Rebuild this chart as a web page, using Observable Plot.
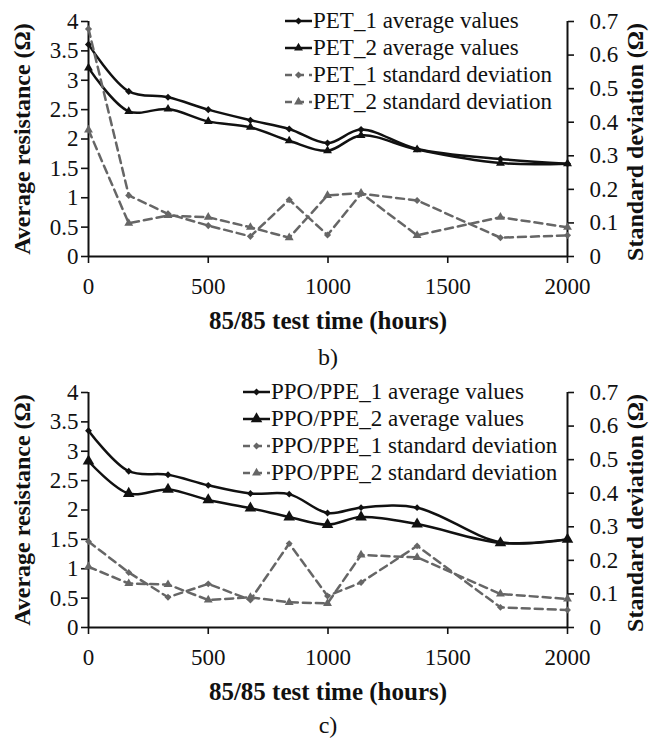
<!DOCTYPE html>
<html><head><meta charset="utf-8">
<script src="https://cdn.jsdelivr.net/npm/d3@7"></script>
<script src="https://cdn.jsdelivr.net/npm/@observablehq/plot@0.6"></script>
<style>
body{margin:0;background:#fff;}
#wrap{position:relative;width:649px;height:740px;overflow:hidden;font-family:"Liberation Serif","Times New Roman",serif;color:#111;}
.panel{position:absolute;left:0;}
.legend{position:absolute;font-size:23px;line-height:27px;}
.row{display:flex;align-items:center;height:27px;white-space:nowrap;}
.row svg{flex:none;margin-right:1px;}
.cap{position:absolute;left:0;width:656px;text-align:center;font-size:24px;line-height:24px;}
</style></head><body><div id="wrap"></div>
<script>
// ---- data ----
const hours = [0, 168, 332, 500, 676, 838, 998, 1138, 1372, 1720, 2000];

const pet1Avg = [3.61, 2.81, 2.71, 2.50, 2.32, 2.17, 1.93, 2.16, 1.83, 1.66, 1.58];
const pet2Avg = [3.21, 2.47, 2.51, 2.30, 2.20, 1.97, 1.80, 2.06, 1.82, 1.59, 1.58];
const pet1Sd  = [0.678, 0.182, 0.127, 0.092, 0.060, 0.169, 0.064, 0.187, 0.167, 0.056, 0.063];
const pet2Sd  = [0.377, 0.099, 0.122, 0.117, 0.087, 0.056, 0.182, 0.189, 0.063, 0.117, 0.087];

const ppo1Avg = [3.35, 2.66, 2.60, 2.42, 2.28, 2.27, 1.95, 2.04, 2.04, 1.45, 1.50];
const ppo2Avg = [2.83, 2.28, 2.35, 2.17, 2.03, 1.88, 1.75, 1.88, 1.76, 1.44, 1.50];
const ppo1Sd  = [0.256, 0.164, 0.090, 0.130, 0.082, 0.250, 0.094, 0.134, 0.243, 0.060, 0.052];
const ppo2Sd  = [0.181, 0.131, 0.128, 0.082, 0.090, 0.075, 0.072, 0.216, 0.209, 0.100, 0.085];

const resTicks = [0, 0.5, 1, 1.5, 2, 2.5, 3, 3.5, 4];
const sdTicks = [0, 0.1, 0.2, 0.3, 0.4, 0.5, 0.6, 0.7];
const timeTicks = [0, 500, 1000, 1500, 2000];
const resMax = 4, sdMax = 0.7, timeMax = 2000;

const xTitle = "85/85 test time (hours)";
const yLeftTitle = "Average resistance (Ω)";
const yRightTitle = "Standard deviation (Ω)";

const panels = [
  {caption: "b)", series: [
    {name: "PET_1 average values", values: pet1Avg, sd: false, symbol: "diamond2", r: 3.2},
    {name: "PET_2 average values", values: pet2Avg, sd: false, symbol: "triangle", r: 3.3},
    {name: "PET_1 standard deviation", values: pet1Sd, sd: true, symbol: "diamond2", r: 3.2},
    {name: "PET_2 standard deviation", values: pet2Sd, sd: true, symbol: "triangle", r: 3.3}
  ], legendLeft: 285},
  {caption: "c)", series: [
    {name: "PPO/PPE_1 average values", values: ppo1Avg, sd: false, symbol: "diamond2", r: 3.1},
    {name: "PPO/PPE_2 average values", values: ppo2Avg, sd: false, symbol: "triangle", r: 4.3},
    {name: "PPO/PPE_1 standard deviation", values: ppo1Sd, sd: true, symbol: "diamond2", r: 3.1},
    {name: "PPO/PPE_2 standard deviation", values: ppo2Sd, sd: true, symbol: "triangle", r: 3.3}
  ], legendLeft: 243}
];

const k = resMax / sdMax;
const BLACK = "#111", GRAY = "#666";
const wrap = document.getElementById("wrap");
const PANEL_STEP = 371;

function swatch(s) {
  const col = s.sd ? GRAY : BLACK;
  const sym = s.symbol === "triangle" ? d3.symbolTriangle : d3.symbolDiamond2;
  const path = d3.symbol(sym, Math.PI * s.r * s.r)();
  const dash = s.sd ? ' stroke-dasharray="7,5"' : '';
  return `<svg width="27" height="16" viewBox="0 0 27 16"><line x1="0" x2="27" y1="8" y2="8" stroke="${col}" stroke-width="2.5"${dash}/>` +
    `<path d="${path}" transform="translate(13.5,8)" fill="${col}"/></svg>`;
}

panels.forEach((p, pi) => {
  const marks = [
    Plot.ruleY([0], {stroke: BLACK, strokeWidth: 2}),
    Plot.ruleX([0], {stroke: BLACK, strokeWidth: 2}),
    Plot.ruleX([timeMax], {stroke: BLACK, strokeWidth: 2}),
    Plot.axisX(timeTicks, {anchor: "bottom", tickSize: 7, tickPadding: 14, strokeWidth: 1.6, fontSize: 23, tickFormat: d => String(d), label: null}),
    Plot.axisY(resTicks, {anchor: "left", tickSize: 7, tickPadding: 3, strokeWidth: 1.6, fontSize: 23, tickFormat: d => String(d), label: null}),
    Plot.axisY(sdTicks.map(t => t * k), {anchor: "right", tickSize: 6, tickPadding: 16, strokeWidth: 1.6, fontSize: 23, tickFormat: d => String(+(d / k).toFixed(1)), label: null})
  ];
  p.series.forEach(s => {
    const rows = hours.map((h, i) => ({h, v: s.values[i] * (s.sd ? k : 1)}));
    const col = s.sd ? GRAY : BLACK;
    marks.push(Plot.line(rows, {x: "h", y: "v", curve: s.sd ? "linear" : "catmull-rom", stroke: col, strokeWidth: 2.5,
      strokeDasharray: s.sd ? "8,5" : null}));
    marks.push(Plot.dot(rows, {x: "h", y: "v", symbol: s.symbol, r: s.r, fill: col, stroke: "none"}));
  });
  marks.push(Plot.text([yLeftTitle], {text: d => d, frameAnchor: "left", textAnchor: "middle", lineAnchor: "middle", dx: -66, rotate: -90, fontWeight: "bold", fontSize: 24, fill: BLACK}));
  marks.push(Plot.text([yRightTitle], {text: d => d, frameAnchor: "right", textAnchor: "middle", lineAnchor: "middle", dx: 68, dy: 3, rotate: -90, fontWeight: "bold", fontSize: 24, fill: BLACK}));
  marks.push(Plot.text([xTitle], {text: d => d, frameAnchor: "bottom", textAnchor: "middle", lineAnchor: "middle", dy: 64, fontWeight: "bold", fontSize: 25, fill: BLACK}));

  const chart = Plot.plot({
    width: 649, height: 335,
    marginLeft: 88, marginRight: 82, marginTop: 21, marginBottom: 79,
    x: {domain: [0, timeMax]},
    y: {domain: [0, resMax]},
    style: {fontFamily: "Liberation Serif, Times New Roman, serif", fontSize: "23px", color: BLACK, background: "transparent", overflow: "visible"},
    marks
  });
  const top = pi * PANEL_STEP;
  const holder = document.createElement("div");
  holder.className = "panel";
  holder.style.top = top + "px";
  holder.appendChild(chart);
  wrap.appendChild(holder);

  const leg = document.createElement("div");
  leg.className = "legend";
  leg.style.left = p.legendLeft + "px";
  leg.style.top = (top + 7) + "px";
  leg.innerHTML = p.series.map(s => `<div class="row">${swatch(s)}<span>${s.name}</span></div>`).join("");
  wrap.appendChild(leg);

  const cap = document.createElement("div");
  cap.className = "cap";
  cap.style.top = (top + 345 - pi * 3) + "px";
  cap.textContent = p.caption;
  wrap.appendChild(cap);
});
</script></body></html>
